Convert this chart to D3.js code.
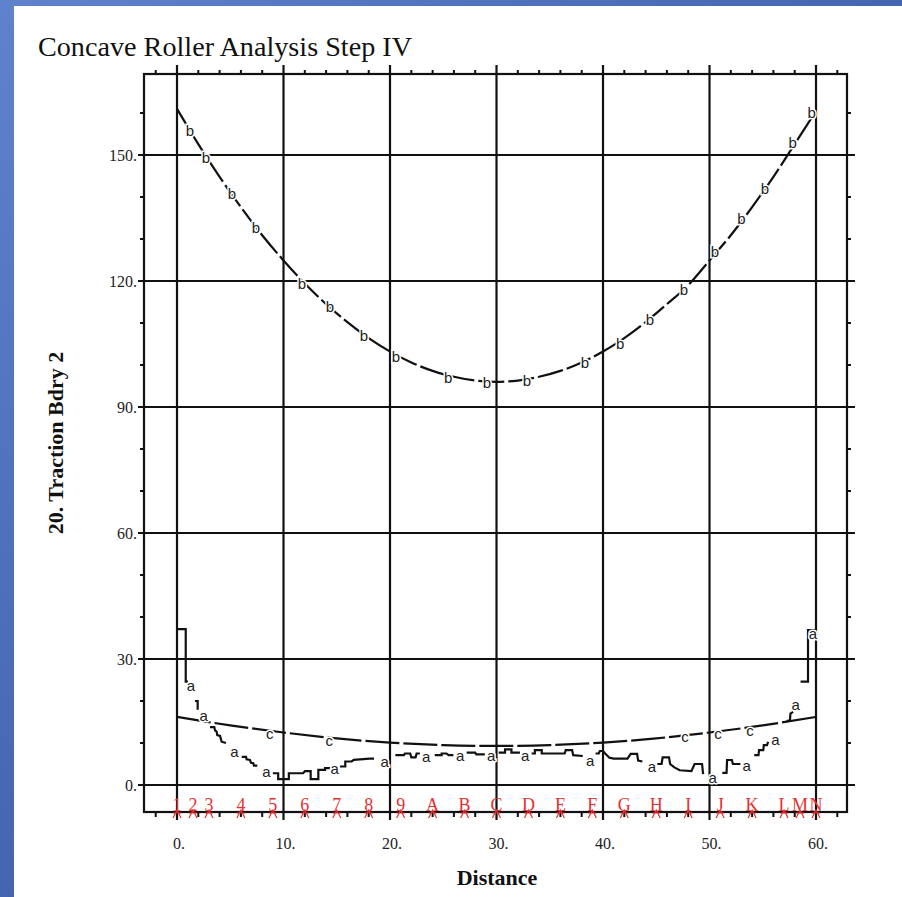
<!DOCTYPE html>
<html><head><meta charset="utf-8">
<script src="https://cdn.jsdelivr.net/npm/d3@7/dist/d3.min.js"></script>
<style>body{margin:0;padding:0;background:#fff}svg{display:block}</style>
</head><body>
<svg id="chart" width="902" height="897"></svg>
<script>
// ---------- DATA ----------
const title = "Concave Roller Analysis Step IV";
const xTitle = "Distance";
const yTitle = "20. Traction Bdry 2";
const xTicks = [0, 10, 20, 30, 40, 50, 60];
const xTickLabels = ["0.", "10.", "20.", "30.", "40.", "50.", "60."];
const yTicks = [0, 30, 60, 90, 120, 150];
const yTickLabels = ["0.", "30.", "60.", "90.", "120.", "150."];

// series b (upper parabola)
const bX = [0, 2, 4, 6, 8, 10, 12, 14, 16, 18, 20, 22, 24, 26, 28, 30, 32, 34, 36, 38, 40, 42, 44, 46, 48, 50, 52, 54, 56, 58, 60];
const bY = [161.0, 152.6, 144.8, 137.6, 130.9, 124.9, 119.4, 114.5, 110.2, 106.4, 103.2, 100.6, 98.6, 97.2, 96.3, 96.0, 96.3, 97.2, 98.6, 100.6, 103.2, 106.4, 110.2, 114.5, 119.0, 124.9, 130.9, 137.6, 144.8, 152.6, 160.5];
const bLabelX = [1.22, 2.72, 5.16, 7.42, 11.74, 14.37, 17.56, 20.56, 25.45, 29.11, 32.86, 38.31, 41.6, 44.4, 47.6, 50.5, 53.0, 55.2, 57.8, 59.6];
const bLabelY = [155.7, 149.3, 140.7, 132.6, 119.5, 113.8, 106.9, 102.1, 97.1, 95.7, 96.2, 100.5, 105.2, 110.7, 117.9, 126.9, 134.8, 142.1, 152.9, 160.0];

// series c (lower smooth curve)
const cX = [0, 5, 10, 15, 20, 25, 30, 35, 40, 45, 50, 55, 60];
const cY = [16.2, 14.2, 12.5, 11.1, 10.1, 9.5, 9.3, 9.5, 10.1, 11.1, 12.5, 14.2, 16.2];
const cLabelX = [8.7, 14.3, 47.7, 50.8, 53.8];
const cLabelY = [11.9, 10.2, 11.2, 11.9, 12.6];

// series a (stepped curve, null = break)
const aX = [0, 0.82, 0.82, 1.03, null,
  1.69, 1.94, 1.94, null,
  3.10, 3.50, 3.57, 3.72, 3.78, 4.04, 4.19, 4.60, null,
  6.08, 6.48, 6.54, 6.85, 6.95, 7.16, 7.23, 7.54, null,
  9.0, 9.5, 9.5, 10.5, 10.5, 11.83, 12.02, 12.55, 12.55, 13.27, 13.27, 13.9, 13.9, 14.4, null,
  15.3, 15.8, 15.8, 16.4, 16.6, 18.1, 18.5, null,
  20.5, 21.3, 21.4, 21.9, 22.0, 22.4, 22.5, 22.8, null,
  24.2, 24.85, 24.85, 25.3, 25.5, 25.95, null,
  27.2, 28.0, 28.1, 28.9, null,
  30.2, 30.8, 30.8, 31.4, 31.4, 32.2, null,
  33.3, 33.6, 33.6, 34.25, 34.25, 36.4, 36.5, 37.1, 37.2, 38.1, null,
  39.3, 39.6, 39.7, 40.0, 40.2, 40.6, 41.0, 42.3, 42.6, 43.2, 43.3, 43.7, null,
  45.1, 45.5, 45.6, 46.2, 46.3, 46.7, 47.2, 48.3, 48.6, 49.3, 49.4, null,
  51.2, 51.6, 51.65, 52.1, 52.2, 52.9, null,
  54.2, 54.6, 54.65, 55.05, 55.1, 55.4, 55.5, null,
  57.25, 57.55, 57.6, 57.85, null,
  58.55, 59.25, 59.25, 60];
const aY = [37.1, 37.1, 24.6, 24.6, null,
  20.0, 20.0, 17.9, null,
  13.8, 13.8, 13.0, 12.7, 11.9, 11.7, 10.3, 10.0, null,
  6.7, 6.7, 6.1, 5.95, 5.3, 5.2, 4.6, 4.6, null,
  2.8, 2.8, 1.4, 1.4, 2.8, 2.8, 3.3, 3.3, 1.4, 1.4, 3.6, 3.6, 4.0, 4.0, null,
  4.4, 4.4, 5.6, 5.6, 6.0, 6.3, 6.3, null,
  7.1, 7.1, 7.5, 7.5, 6.6, 6.6, 7.5, 7.5, null,
  7.1, 7.1, 7.5, 7.5, 7.1, 7.1, null,
  7.7, 7.7, 7.3, 7.3, null,
  7.7, 7.7, 8.5, 8.5, 7.7, 7.7, null,
  7.5, 7.5, 8.3, 8.3, 7.5, 7.5, 8.3, 8.3, 7.1, 6.9, null,
  7.5, 7.5, 8.1, 8.1, 7.5, 6.5, 6.3, 6.3, 7.4, 7.4, 5.8, 5.6, null,
  5.0, 5.0, 6.6, 6.6, 5.0, 4.2, 3.5, 3.3, 5.0, 5.0, 2.6, null,
  2.9, 2.9, 5.95, 5.95, 5.0, 5.0, null,
  7.1, 7.1, 8.3, 8.3, 9.5, 9.5, 10.3, null,
  15.2, 15.4, 17.0, 17.4, null,
  24.6, 24.6, 36.9, 36.9];
const aLabelX = [1.3, 2.5, 5.4, 8.4, 14.8, 19.5, 23.4, 26.6, 29.5, 32.7, 38.8, 44.6, 50.3, 53.5, 56.2, 58.1, 59.7];
const aLabelY = [23.4, 16.3, 7.6, 2.8, 3.6, 5.2, 6.4, 6.7, 6.7, 6.6, 5.5, 4.0, 1.4, 4.4, 10.5, 18.8, 35.7];

// red point markers along the bottom
const markLabels = ["1","2","3","4","5","6","7","8","9","A","B","C","D","E","F","G","H","I","J","K","L","M","N"];
const markX = [0, 1.5, 3, 6, 9, 12, 15, 18, 21, 24, 27, 30, 33, 36, 39, 42, 45, 48, 51, 54, 57, 58.5, 60];

// ---------- DRAW ----------
const svg = d3.select("#chart");
const W = 902, H = 897;
const defs = svg.append("defs");
const grad = defs.append("linearGradient").attr("id", "bg").attr("x1", "0").attr("y1", "0").attr("x2", "1").attr("y2", "1");
grad.append("stop").attr("offset", "0").attr("stop-color", "#5e82cc");
grad.append("stop").attr("offset", "0.5").attr("stop-color", "#4466b0");
grad.append("stop").attr("offset", "1").attr("stop-color", "#2a4a92");
svg.append("rect").attr("width", W).attr("height", H).attr("fill", "url(#bg)");
svg.append("rect").attr("x", 14).attr("y", 6).attr("width", W - 14).attr("height", H - 6).attr("fill", "#ffffff");

const L = 144, R = 847, T = 74, B = 812;
const x = d3.scaleLinear().domain([-3.099, 62.91]).range([L, R]);
const y = d3.scaleLinear().domain([-6.43, 169.29]).range([B, T]);

const serif = "'Liberation Serif','Times New Roman',serif";
const ink = "#111";

// title
svg.append("text").attr("x", 38).attr("y", 56).attr("font-family", serif).attr("font-size", 28)
  .attr("fill", ink).attr("textLength", 374).attr("lengthAdjust", "spacingAndGlyphs").text(title);

const g = svg.append("g");

// minor ticks
const minorX = d3.range(-2, 63, 2).filter(v => v % 10 !== 0);
const minorY = d3.range(10, 170, 10).filter(v => v % 30 !== 0);
g.selectAll(".mxt").data(minorX).join("line")
  .attr("x1", d => x(d)).attr("x2", d => x(d)).attr("y1", T).attr("y2", T - 4)
  .attr("stroke", ink).attr("stroke-width", 2);
g.selectAll(".mxb").data(minorX).join("line")
  .attr("x1", d => x(d)).attr("x2", d => x(d)).attr("y1", B).attr("y2", B + 5)
  .attr("stroke", ink).attr("stroke-width", 2);
g.selectAll(".myl").data(minorY).join("line")
  .attr("x1", L).attr("x2", L - 4).attr("y1", d => y(d)).attr("y2", d => y(d))
  .attr("stroke", ink).attr("stroke-width", 2);
g.selectAll(".myr").data(minorY).join("line")
  .attr("x1", R).attr("x2", R + 4).attr("y1", d => y(d)).attr("y2", d => y(d))
  .attr("stroke", ink).attr("stroke-width", 2);

// grid
g.selectAll(".gx").data(xTicks).join("line")
  .attr("x1", d => x(d)).attr("x2", d => x(d)).attr("y1", T - 9).attr("y2", B + 8)
  .attr("stroke", ink).attr("stroke-width", 2.2);
g.selectAll(".gy").data(yTicks).join("line")
  .attr("x1", L - 6).attr("x2", R + 8).attr("y1", d => y(d)).attr("y2", d => y(d))
  .attr("stroke", ink).attr("stroke-width", 2.2);

// frame
g.append("rect").attr("x", L).attr("y", T).attr("width", R - L).attr("height", B - T)
  .attr("fill", "none").attr("stroke", ink).attr("stroke-width", 2.2);

// tick labels
g.selectAll(".xl").data(xTicks).join("text")
  .attr("x", d => x(d) + 2).attr("y", 849).attr("text-anchor", "middle")
  .attr("font-family", serif).attr("font-size", 16).attr("fill", "#222")
  .text((d, i) => xTickLabels[i]);
g.selectAll(".yl").data(yTicks).join("text")
  .attr("x", 137).attr("y", d => y(d)).attr("dy", "0.35em").attr("text-anchor", "end")
  .attr("font-family", serif).attr("font-size", 16).attr("fill", "#222")
  .text((d, i) => yTickLabels[i]);

// axis titles
svg.append("text").attr("x", 497).attr("y", 885).attr("text-anchor", "middle")
  .attr("font-family", serif).attr("font-size", 22).attr("font-weight", "bold").attr("fill", ink).text(xTitle);
svg.append("text").attr("transform", "translate(63,443) rotate(-90)").attr("text-anchor", "middle")
  .attr("font-family", serif).attr("font-size", 22).attr("font-weight", "bold").attr("fill", ink).text(yTitle);

// curves
const lineFn = d3.line().defined(d => d[0] !== null && d[1] !== null).x(d => x(d[0])).y(d => y(d[1]));
const bData = bX.map((v, i) => [v, bY[i]]);
const cData = cX.map((v, i) => [v, cY[i]]);
const aData = aX.map((v, i) => [v, aY[i]]);

g.append("path").attr("d", d3.line().x(d => x(d[0])).y(d => y(d[1])).curve(d3.curveMonotoneX)(bData))
  .attr("fill", "none").attr("stroke", ink).attr("stroke-width", 2.2).attr("stroke-dasharray", "26,4");
g.append("path").attr("d", d3.line().x(d => x(d[0])).y(d => y(d[1])).curve(d3.curveMonotoneX)(cData))
  .attr("fill", "none").attr("stroke", ink).attr("stroke-width", 2.2).attr("stroke-dasharray", "34,4");
g.append("path").attr("d", lineFn(aData))
  .attr("fill", "none").attr("stroke", ink).attr("stroke-width", 2.2);

// curve labels
const sans = "'Liberation Sans',Arial,sans-serif";
function labels(xs, ys, ch, dy) {
  g.selectAll(null).data(xs).join("text")
    .attr("x", d => x(d)).attr("y", (d, i) => y(ys[i])).attr("dy", dy)
    .attr("text-anchor", "middle").attr("font-family", sans).attr("font-size", 15)
    .attr("fill", "#222").attr("stroke", "#fff").attr("stroke-width", 3).attr("paint-order", "stroke")
    .text(ch);
}
labels(bLabelX, bLabelY, "b", "0.36em");
labels(cLabelX, cLabelY, "c", "0.28em");
labels(aLabelX, aLabelY, "a", "0.28em");

// red markers
const red = "#e83030";
const mk = g.selectAll(".mk").data(markX).join("g").attr("transform", d => `translate(${x(d)},0)`);
mk.append("path").attr("d", `M-4,${B + 6}L0,${B - 2}L4,${B + 6}M-4,${B + 1}L4,${B + 1}`)
  .attr("fill", "none").attr("stroke", red).attr("stroke-width", 1.2);
mk.append("text").attr("x", 0).attr("y", B - 1).attr("text-anchor", "middle")
  .attr("font-family", serif).attr("font-size", 18).attr("fill", red)
  .text((d, i) => markLabels[i]);
</script>
</body></html>
